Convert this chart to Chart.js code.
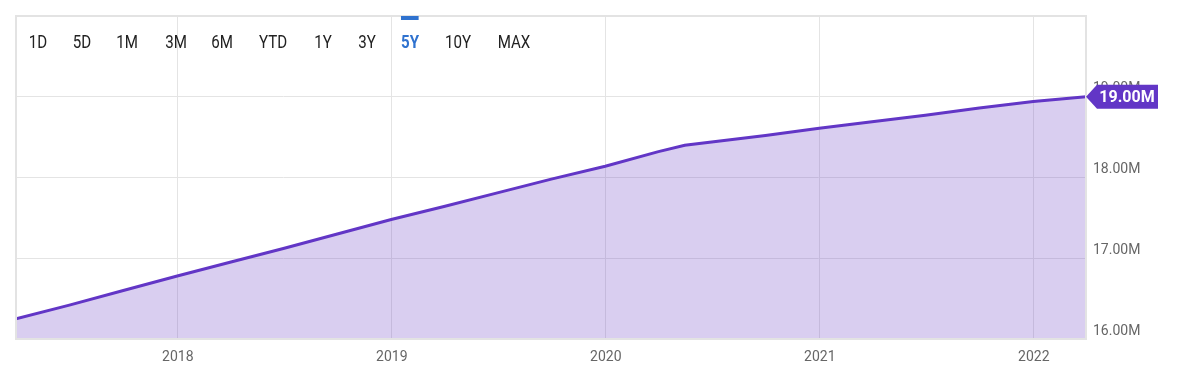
<!DOCTYPE html>
<html>
<head>
<meta charset="utf-8">
<script src="https://cdn.jsdelivr.net/npm/chart.js@4.4.1/dist/chart.umd.min.js"></script>
<style>
  html, body { margin: 0; padding: 0; background: #fff; }
  #wrap { position: relative; width: 1179px; height: 378px; }
  #ranges span {
    position: absolute;
    top: 33px;
    font: 18px Roboto, sans-serif;
    line-height: 18px;
    color: #222;
    white-space: nowrap;
    transform: translateX(-50%) scaleX(0.84);
  }
  #ranges span.active { color: #2f72cf; font-weight: bold; }
  #ranges span.active::before {
    content: "";
    position: absolute;
    left: 0; right: 0; top: -17px; height: 4px;
    background: #2f72cf;
  }
</style>
</head>
<body>
<div id="wrap">
  <canvas id="chart" width="1179" height="378"></canvas>
  <div id="ranges"></div>
</div>
<script>
// data (millions)
const dates = [
  "2017-03-31", "2017-06-30", "2017-09-30", "2017-12-31",
  "2018-03-31", "2018-06-30", "2018-09-30", "2018-12-31",
  "2019-03-31", "2019-06-30", "2019-09-30", "2019-12-31",
  "2020-03-31", "2020-05-15", "2020-09-30", "2020-12-31",
  "2021-03-31", "2021-06-30", "2021-09-30", "2021-12-31",
  "2022-03-31"
];
const values = [
  16.25, 16.42, 16.60, 16.78,
  16.95, 17.12, 17.30, 17.48,
  17.64, 17.81, 17.98, 18.14,
  18.32, 18.40, 18.52, 18.61,
  18.69, 18.77, 18.86, 18.94,
  19.00
];
const yearTicks = [2018, 2019, 2020, 2021, 2022];
const valueTicks = [16, 17, 18, 19, 20];
const ranges = ["1D", "5D", "1M", "3M", "6M", "YTD", "1Y", "3Y", "5Y", "10Y", "MAX"];
const activeRange = "5Y";

// range buttons (centres in px)
const rangeCentres = [37.5, 82, 127, 175.5, 222, 273, 323, 367, 410, 458, 514];
const rangesBox = document.getElementById("ranges");
ranges.forEach((r, i) => {
  const s = document.createElement("span");
  s.textContent = r;
  s.style.left = rangeCentres[i] + "px";
  if (r === activeRange) s.className = "active";
  rangesBox.appendChild(s);
});

const lineColor = "#6236c6";
const fillColor = "rgba(103, 58, 196, 0.25)";
const gridColor = "#e4e4e4";
const labelFont = { family: "Roboto", size: 14 };

function toYear(s) {
  const d = new Date(s + "T00:00:00Z");
  const y = d.getUTCFullYear();
  const start = Date.UTC(y, 0, 1);
  const end = Date.UTC(y + 1, 0, 1);
  return y + (d.getTime() - start) / (end - start);
}

const points = dates.map((d, i) => ({ x: toYear(d), y: values[i] }));

const framePlugin = {
  id: "frame",
  afterDatasetsDraw(chart) {
    const { ctx, chartArea: a } = chart;
    ctx.save();
    ctx.strokeStyle = "#e3e3e3";
    ctx.lineWidth = 2;
    ctx.strokeRect(a.left, a.top, a.right - a.left, a.bottom - a.top);
    ctx.restore();
  }
};

const badgePlugin = {
  id: "badge",
  afterDraw(chart) {
    const { ctx, chartArea: a } = chart;
    const last = values[values.length - 1];
    const y = chart.scales.y.getPixelForValue(last);
    const x = a.right;
    ctx.save();
    ctx.fillStyle = lineColor;
    ctx.beginPath();
    ctx.moveTo(x, y);
    ctx.lineTo(x + 11, y - 12);
    ctx.lineTo(x + 72, y - 12);
    ctx.lineTo(x + 72, y + 12);
    ctx.lineTo(x + 11, y + 12);
    ctx.closePath();
    ctx.fill();
    ctx.fillStyle = "#fff";
    ctx.font = "bold 16px Roboto";
    ctx.textAlign = "center";
    ctx.textBaseline = "middle";
    ctx.fillText(last.toFixed(2) + "M", x + 41, y + 1);
    ctx.restore();
  }
};

const ctx = document.getElementById("chart").getContext("2d");
new Chart(ctx, {
  type: "line",
  data: {
    datasets: [
      {
        data: points,
        borderColor: lineColor,
        borderWidth: 3,
        backgroundColor: fillColor,
        fill: "start",
        pointRadius: 0,
        tension: 0,
      },
    ],
  },
  options: {
    responsive: false,
    animation: false,
    layout: { padding: { left: 16, top: 16, right: 0, bottom: 0 } },
    plugins: {
      legend: { display: false },
      tooltip: { enabled: false },
    },
    scales: {
      x: {
        type: "linear",
        min: points[0].x,
        max: points[points.length - 1].x,
        afterBuildTicks: (s) => { s.ticks = yearTicks.map((v) => ({ value: v })); },
        afterFit: (s) => { s.height = 39; },
        grid: { color: gridColor, drawTicks: false },
        border: { display: false },
        ticks: {
          padding: 10,
          color: "#666",
          font: labelFont,
          maxRotation: 0,
          autoSkip: false,
          callback: (v) => String(v),
        },
      },
      y: {
        position: "right",
        min: 16,
        max: 20,
        afterBuildTicks: (s) => { s.ticks = valueTicks.map((v) => ({ value: v })); },
        afterFit: (s) => { s.width = 93; },
        grid: { color: gridColor, drawTicks: false },
        border: { display: false },
        ticks: {
          padding: 7,
          labelOffset: -8,
          color: "#666",
          font: labelFont,
          callback: (v) => (v === 20 ? "" : v.toFixed(2) + "M"),
        },
      },
    },
  },
  plugins: [framePlugin, badgePlugin],
});
</script>
</body>
</html>
